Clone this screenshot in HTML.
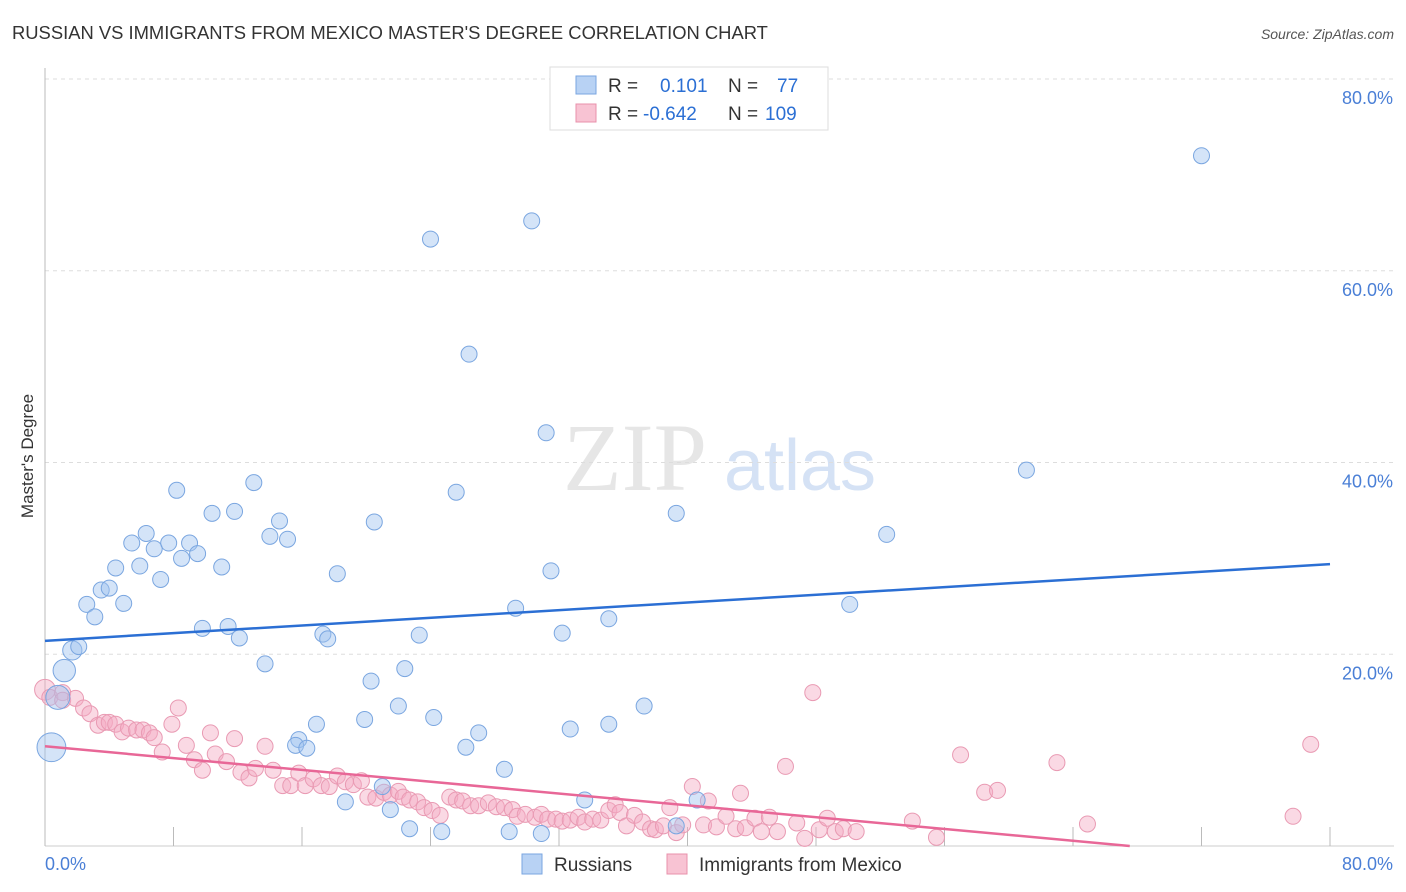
<!DOCTYPE html>
<html><head><meta charset="utf-8"><style>
body{margin:0;background:#fff;font-family:"Liberation Sans",sans-serif;}
svg{display:block}
</style></head><body>
<svg id="chart" width="1406" height="892">
<text x="12" y="39" font-size="18.4" fill="#333">RUSSIAN VS IMMIGRANTS FROM MEXICO MASTER'S DEGREE CORRELATION CHART</text>
<text x="1394" y="39" font-size="14" fill="#555" font-style="italic" text-anchor="end">Source: ZipAtlas.com</text>
<g>
<text x="635" y="490" font-size="96" fill="#e6e6e6" font-family="Liberation Serif" text-anchor="middle">ZIP</text>
<text x="800" y="490" font-size="72" fill="#d5e2f5" text-anchor="middle">atlas</text></g>
<g id="grid"></g><g id="axes"></g><g id="marks"></g><g id="lines"></g>
<text transform="translate(33,456) rotate(-90)" font-size="17" fill="#333" text-anchor="middle">Master's Degree</text>
<g>
<rect x="550" y="67" width="278" height="63" fill="#fff" stroke="#ddd"/>
<rect x="576" y="76" width="20" height="18" fill="#b8d2f4" stroke="#7aa6e0"/>
<rect x="576" y="104" width="20" height="18" fill="#f8c3d3" stroke="#e890ab"/>
<text x="608" y="92" font-size="19" fill="#333">R = <tspan fill="#2b6fd4" x="660">0.101</tspan><tspan x="728" fill="#333">N = </tspan><tspan fill="#2b6fd4" x="777">77</tspan></text>
<text x="608" y="120" font-size="19" fill="#333">R = <tspan fill="#2b6fd4" x="643">-0.642</tspan><tspan x="728" fill="#333">N = </tspan><tspan fill="#2b6fd4" x="765">109</tspan></text>
</g>
<g>
<rect x="522" y="854" width="20" height="20" fill="#b8d2f4" stroke="#7aa6e0"/>
<text x="554" y="871" font-size="19" fill="#333">Russians</text>
<rect x="667" y="854" width="20" height="20" fill="#f8c3d3" stroke="#e890ab"/>
<text x="699" y="871" font-size="19" fill="#333">Immigrants from Mexico</text>
</g>
</svg>
<script>
const yTicks=[20,40,60,80];
const yTickLabels=["20.0%","40.0%","60.0%","80.0%"];
const xTicks=[0,8,16,24,32,40,48,56,64,72,80];
const blueX=[72.0,30.3,24.0,26.4,31.2,61.1,8.2,13.0,10.4,11.8,25.6,20.5,14.6,39.3,6.3,5.4,6.8,7.7,9.0,9.5,8.5,14.0,15.1,52.4,4.4,5.9,7.2,11.0,18.2,31.5,2.6,3.5,4.0,4.9,3.1,29.3,50.1,35.1,9.8,11.4,12.1,17.3,17.6,23.3,32.2,1.7,2.1,1.2,13.7,22.4,20.3,0.8,22.0,37.3,19.9,24.2,16.9,32.7,35.1,15.8,15.6,16.3,27.0,26.2,0.4,28.6,18.7,21.0,21.5,33.6,40.6,22.7,24.7,28.9,30.9,39.3];
const blueY=[72.0,65.2,63.3,51.3,43.1,39.2,37.1,37.9,34.7,34.9,36.9,33.8,33.9,34.7,32.6,31.6,31.0,31.6,31.6,30.5,30.0,32.3,32.0,32.5,29.0,29.2,27.8,29.1,28.4,28.7,25.2,26.7,26.9,25.3,23.9,24.8,25.2,23.7,22.7,22.9,21.7,22.1,21.6,22.0,22.2,20.4,20.8,18.3,19.0,18.5,17.2,15.5,14.6,14.6,13.2,13.4,12.7,12.2,12.7,11.1,10.5,10.2,11.8,10.3,10.3,8.0,4.6,6.2,3.8,4.8,4.8,1.8,1.5,1.5,1.3,2.1];
const blueSize=blueX.map((v,i)=>i===64?1.8:(i===47?1.4:(i===45?1.2:(i===51?1.5:1))));
const pinkX=[0.0,0.3,1.1,1.1,1.9,2.4,2.8,3.3,3.7,4.0,4.4,4.8,5.2,5.7,6.1,6.5,6.8,7.3,7.9,8.3,8.8,9.3,9.8,10.3,10.6,11.3,11.8,12.2,12.7,13.1,13.7,14.2,14.8,15.3,15.8,16.2,16.7,17.2,17.7,18.2,18.7,19.2,19.7,20.1,20.6,21.1,21.5,22.0,22.3,22.7,23.2,23.6,24.1,24.6,25.2,25.6,26.0,26.5,27.0,27.6,28.1,28.6,29.1,29.4,29.9,30.5,30.9,31.3,31.8,32.2,32.7,33.2,33.6,34.1,34.6,35.1,35.5,35.8,36.2,36.7,37.2,37.7,38.0,38.5,38.9,39.3,39.7,40.3,41.0,41.3,41.8,42.4,43.0,43.3,43.6,44.2,44.6,45.1,45.6,46.1,46.8,47.3,47.8,48.2,48.7,49.2,49.7,50.5,54.0,55.5,57.0,58.5,59.3,63.0,64.9,77.7,78.8];
const pinkY=[16.3,15.5,16.0,15.2,15.4,14.4,13.8,12.6,12.9,12.9,12.7,11.9,12.3,12.1,12.1,11.8,11.3,9.8,12.7,14.4,10.5,9.0,7.9,11.8,9.6,8.8,11.2,7.7,7.1,8.1,10.4,7.9,6.3,6.3,7.6,6.3,7.0,6.3,6.2,7.3,6.7,6.4,6.8,5.1,5.0,5.6,5.3,5.7,5.1,4.8,4.6,4.0,3.7,3.2,5.1,4.8,4.7,4.2,4.2,4.5,4.1,4.0,3.8,3.1,3.3,3.0,3.3,2.8,2.8,2.6,2.7,3.0,2.5,2.8,2.7,3.7,4.3,3.5,2.1,3.2,2.5,1.8,1.7,2.1,4.0,1.4,2.2,6.2,2.2,4.7,2.0,3.1,1.8,5.5,1.9,2.9,1.5,3.0,1.5,8.3,2.4,0.8,16.0,1.7,2.9,1.5,1.8,1.5,2.6,0.9,9.5,5.6,5.8,8.7,2.3,3.1,10.6];
const pinkSize=pinkX.map((v,i)=>i===0?1.3:1);
const blueLine=[21.4,29.4];
const pinkLine=[10.4,-0.154];

const NS="http://www.w3.org/2000/svg";
const X0=45,X1=1330,Y0=846,Y80=79;
const sx=v=>X0+(X1-X0)*v/80;
const sy=v=>Y0-(Y0-Y80)*v/80;
function mk(tag,attrs,parent){const e=document.createElementNS(NS,tag);for(const k in attrs)e.setAttribute(k,attrs[k]);parent.appendChild(e);return e;}
const grid=document.getElementById('grid'),axes=document.getElementById('axes'),marks=document.getElementById('marks'),lines=document.getElementById('lines');
yTicks.forEach((t,i)=>{
 const g=mk('line',{x1:X0,x2:1394,y1:sy(t),y2:sy(t),stroke:'#ddd','stroke-dasharray':'4,4'},grid);
 
 
 const l=mk('text',{x:1393,y:sy(t)+25,'font-size':18,fill:'#4a7fd6','text-anchor':'end'},axes);
 l.textContent=yTickLabels[i];
 
 
});
const ax=mk('line',{x1:X0,x2:X0,y1:68,y2:Y0,stroke:'#bbb'},axes);


const xa=mk('line',{x1:X0,x2:1394,y1:Y0,y2:Y0,stroke:'#ccc'},axes);


xTicks.forEach(t=>{
 const k=mk('line',{x1:sx(t),x2:sx(t),y1:827,y2:Y0,stroke:'#bbb'},axes);
 
 
});
const xl0=mk('text',{x:45,y:870,'font-size':18,fill:'#4a7fd6'},axes);xl0.textContent='0.0%';


const xl1=mk('text',{x:1393,y:870,'font-size':18,fill:'#4a7fd6','text-anchor':'end'},axes);xl1.textContent='80.0%';


pinkX.forEach((v,i)=>{
 const c=mk('circle',{cx:sx(v),cy:sy(pinkY[i]),r:8*pinkSize[i],fill:'rgba(245,170,195,0.45)',stroke:'#e99ab3','stroke-width':1},marks);
 
 
});
blueX.forEach((v,i)=>{
 const c=mk('circle',{cx:sx(v),cy:sy(blueY[i]),r:8*blueSize[i],fill:'rgba(160,195,240,0.45)',stroke:'#7aa6e0','stroke-width':1},marks);
 
 
});
const bl=mk('line',{x1:sx(0),y1:sy(blueLine[0]),x2:sx(80),y2:sy(blueLine[1]),stroke:'#2b6fd4','stroke-width':2.5},lines);


const pEnd=-pinkLine[0]/pinkLine[1];
const pl=mk('line',{x1:sx(0),y1:sy(pinkLine[0]),x2:sx(pEnd),y2:sy(0),stroke:'#e86797','stroke-width':2.5},lines);


</script>
</body></html>
